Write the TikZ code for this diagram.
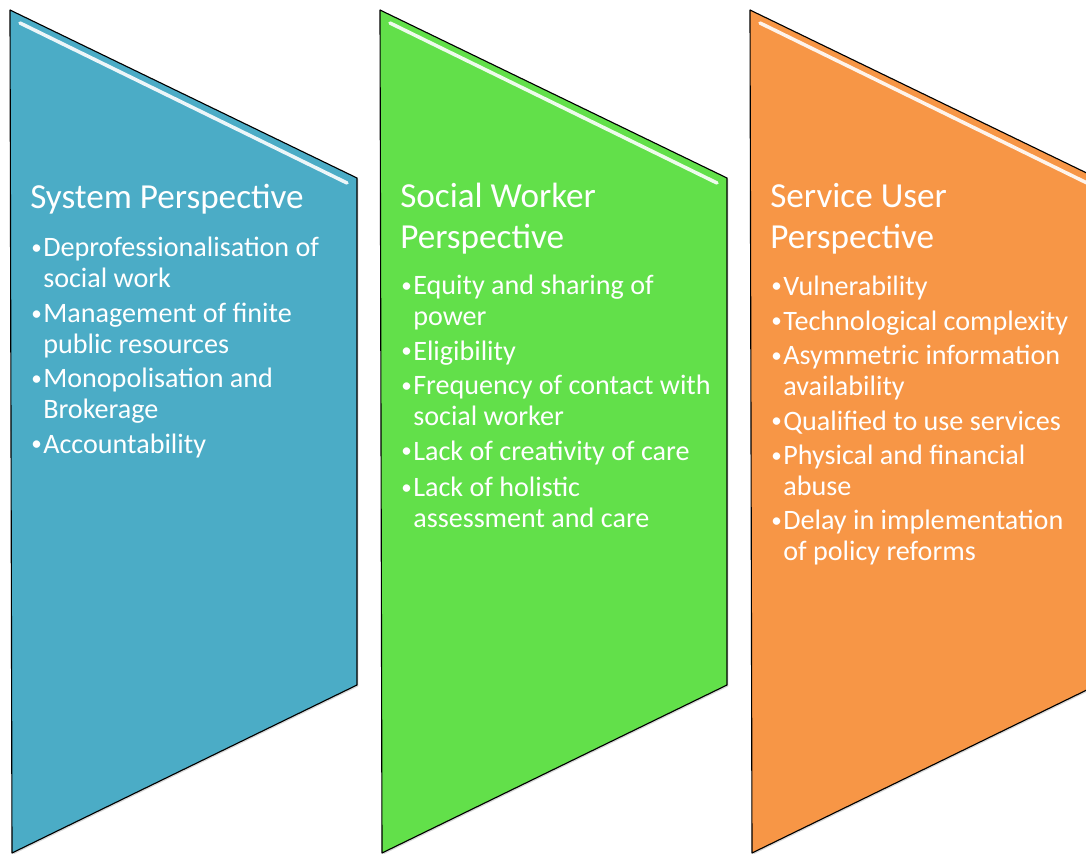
\documentclass[tikz,border=0pt]{standalone}
\usepackage{fontspec}
\setmainfont{Carlito}
\usetikzlibrary{shadows}
\definecolor{sysblue}{HTML}{4BACC6}
\definecolor{swgreen}{HTML}{62E04A}
\definecolor{suorange}{HTML}{F79646}
\tikzset{
  panel/.style={draw=black, line width=0.8pt, line join=round,
    drop shadow={opacity=0.3, shadow xshift=1pt, shadow yshift=-1pt}},
  gloss/.style={draw=white, line width=2.5pt, line cap=round, opacity=0.9},
  head/.style={anchor=base west, text=white, inner sep=0pt, align=left,
    font=\fontsize{25}{28.45}\selectfont},
  item/.style={anchor=base west, text=white, inner sep=0pt, align=left,
    font=\fontsize{20}{21.34}\selectfont},
  dot/.style={anchor=base west, text=white, inner sep=0pt,
    font=\fontsize{15}{21.34}\selectfont},
}
\begin{document}
\begin{tikzpicture}[x=0.025cm,y=-0.025cm]
\useasboundingbox (0,0) rectangle (1086,854);
\clip (0,0) rectangle (1086,854);

% panels
\draw[panel, fill=sysblue] (10,10) -- (357,178) -- (357,685) -- (12,853) -- cycle;
\draw[panel, fill=swgreen] (380,10) -- (727,178) -- (727,685) -- (382,853) -- cycle;
\draw[panel, fill=suorange] (750,10) -- (1097,178) -- (1097,685) -- (752,853) -- cycle;
\draw[gloss] (20,23) -- (347,183);
\draw[gloss] (390,23) -- (717,183);
\draw[gloss] (760,23) -- (1087,183);

% system (multi-line nodes sit on their last baseline)
\node[head] (sys) at (30,208) {System Perspective};
\node[dot] (sd1) at (31,254) {•};
\node[item] (s1) at (43,287) {Deprofessionalisation of\\social work};
\node[dot] (sd2) at (31,320) {•};
\node[item] (s2) at (43,353) {Management of finite\\public resources};
\node[dot] (sd3) at (31,385) {•};
\node[item] (s3) at (43,418) {Monopolisation and\\Brokerage};
\node[dot] (sd4) at (31,450) {•};
\node[item] (s4) at (43,453) {Accountability};

% social worker
\node[head] (sw) at (400,248) {Social Worker\\Perspective};
\node[dot] (wd1) at (401,292) {•};
\node[item] (w1) at (413,325) {Equity and sharing of\\power};
\node[dot] (wd2) at (401,357) {•};
\node[item] (w2) at (413,360) {Eligibility};
\node[dot] (wd3) at (401,392) {•};
\node[item] (w3) at (413,425) {Frequency of contact with\\social worker};
\node[dot] (wd4) at (401,457) {•};
\node[item] (w4) at (413,460) {Lack of creativity of care};
\node[dot] (wd5) at (401,494) {•};
\node[item] (w5) at (413,527) {Lack of holistic\\assessment and care};

% service user
\node[head] (su) at (770,248) {Service User\\Perspective};
\node[dot] (ud1) at (771,292) {•};
\node[item] (u1) at (783,295) {Vulnerability};
\node[dot] (ud2) at (771,327) {•};
\node[item] (u2) at (783,330) {Technological complexity};
\node[dot] (ud3) at (771,362) {•};
\node[item] (u3) at (783,395) {Asymmetric information\\availability};
\node[dot] (ud4) at (771,427) {•};
\node[item] (u4) at (783,430) {Qualified to use services};
\node[dot] (ud5) at (771,462) {•};
\node[item] (u5) at (783,495) {Physical and financial\\abuse};
\node[dot] (ud6) at (771,527) {•};
\node[item] (u6) at (783,560) {Delay in implementation\\of policy reforms};
\end{tikzpicture}
\end{document}
